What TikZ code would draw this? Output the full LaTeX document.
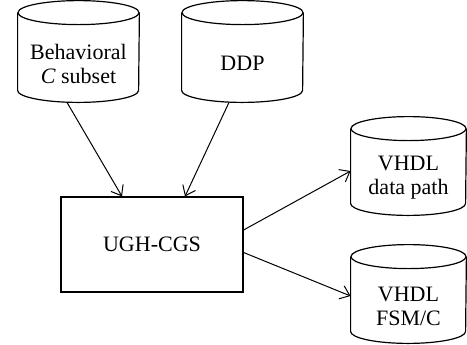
\documentclass[tikz,border=0pt]{standalone}
\usepackage{fontspec}
\setmainfont{Liberation Serif}
\usepackage{tikz}
\usetikzlibrary{arrows.meta}
\usetikzlibrary{positioning}
\tikzset{face/.style = {rectangle, minimum width = 60.5pt, minimum height = 38.5pt,
    inner sep = 0, align = center, font = \fontsize{11}{12}\selectfont}}
\tikzset{tool/.style = {draw, rectangle, minimum width = 91pt, minimum height = 47.5pt,
    line width = 0.6pt, font = \fontsize{11}{12}\selectfont}}
\tikzset{flow/.style = {-{Straight Barb[length = 4.5pt, width = 7pt]}, line width = 0.5pt}}
% outline of a drum round the front face node #1, end radii #2 and 6pt
\newcommand{\drum}[2]{%
  \draw [line width = 0.6pt] ([yshift = 6pt] #1.north west) -- ([yshift = 6pt] #1.south west)
    arc [start angle = 180, end angle = 360, x radius = #2, y radius = 6pt]
    -- ([yshift = 6pt] #1.north east);
  \draw [line width = 0.6pt] ([yshift = 6pt] #1.north) ellipse [x radius = #2, y radius = 6pt];}

\begin{document}
\begin{tikzpicture}[x = 0.5pt, y = -0.5pt]
      \useasboundingbox (0, 0) rectangle (467, 344);
      \node [face] (behav) at (78.5, 63.5) {Behavioral\\ \textit{C} subset};
      \drum{behav}{30.25pt}
      \node [face] (ddp) at (242.5, 63.5) {DDP};
      \drum{ddp}{30.25pt}
      \node [tool] (ugh) at (152, 244.5) {UGH-CGS};
      \node [face, minimum width = 57.5pt, minimum height = 37pt] (vdp) at (408.5, 178) {VHDL\\ data path};
      \drum{vdp}{28.75pt}
      \node [face, minimum width = 57.5pt, minimum height = 37pt] (vfsm) at (408.5, 306) {VHDL\\ FSM/C};
      \drum{vfsm}{28.75pt}

      \draw [flow] ([xshift = -5.75pt] behav.south) -- ([xshift = -15pt] ugh.north);
      \draw [flow] ([xshift = -6.75pt] ddp.south) -- ([xshift = 16.5pt] ugh.north);
      \draw [flow] ([yshift = 7.25pt] ugh.east) -- ([yshift = 3.5pt] vdp.west);
      \draw [flow] ([yshift = -4pt] ugh.east) -- ([yshift = 5pt] vfsm.west);
    \end{tikzpicture}
\end{document}
